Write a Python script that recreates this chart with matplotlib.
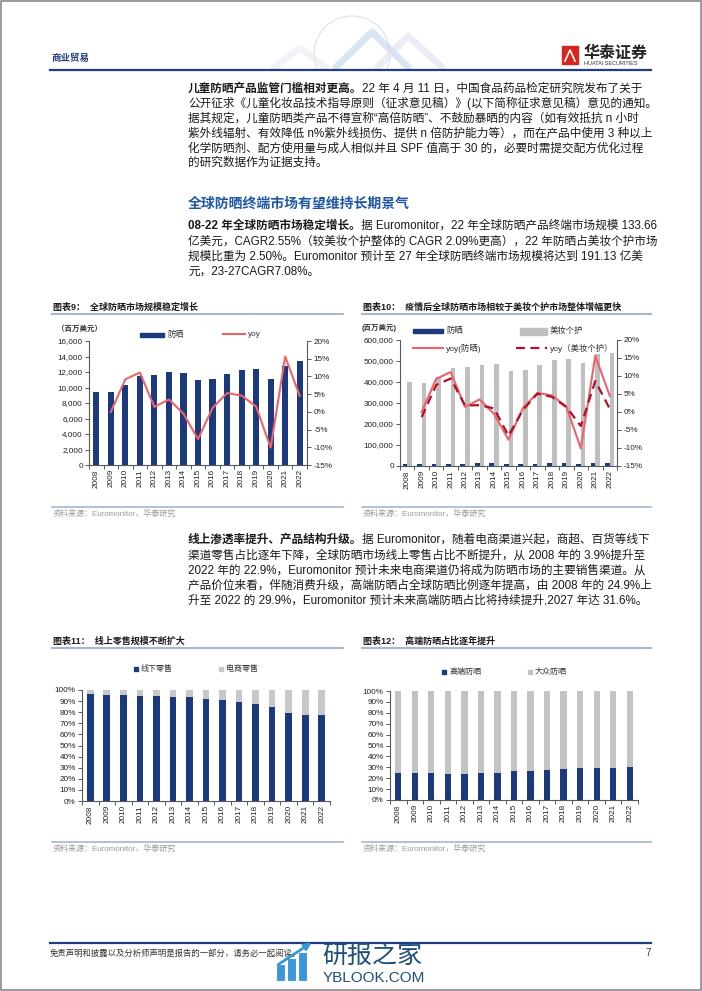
import numpy as np
import matplotlib
matplotlib.use('Agg')
import matplotlib.pyplot as plt
from matplotlib.patches import Rectangle, Circle
from matplotlib.ticker import FuncFormatter

plt.rcParams['font.family'] = ['Liberation Sans', 'Noto Sans CJK SC']
plt.rcParams['axes.unicode_minus'] = False

W, H = 702, 991

# ---- 数据 ----
years = [str(y) for y in range(2008, 2023)]
# 图表9/10: 全球防晒市场规模 (百万美元) 及同比
sunscreen = [9420, 9420, 10320, 11440, 11570, 11990, 11910, 11000, 11140,
             11700, 12200, 12390, 11080, 12790, 13366]
sunscreen_yoy = [0.0, 9.2, 11.1, 1.4, 3.5, -0.5, -7.7, 1.1, 5.3, 4.6, 1.5,
                 -10.1, 15.6, 4.5]
# 图表10: 美妆个护市场规模 (百万美元) 及同比
beauty = [401000, 396000, 426000, 466000, 473000, 482000, 488000, 452000,
          459000, 483000, 503000, 511000, 490000, 531000, 536000]
beauty_yoy = [-1.4, 7.5, 9.3, 1.8, 1.9, 1.0, -6.6, 0.6, 5.1, 4.2, 1.4, -3.9,
              8.6, 0.9]
# 图表11: 线下零售占比 (%)
offline_share = [96.1, 95.9, 95.3, 94.9, 94.6, 94.1, 93.4, 91.9, 90.7, 89.6,
                 87.1, 85.0, 79.0, 77.3, 77.1]
# 图表12: 高端防晒占比 (%)
premium_share = [24.9, 24.9, 24.4, 24.3, 24.3, 24.6, 25.2, 26.4, 26.9, 27.9,
                 28.5, 29.2, 29.3, 29.6, 29.9]

online_share = [100 - v for v in offline_share]
mass_share = [100 - v for v in premium_share]

# ---- 颜色 ----
NAVY = '#1B3A7E'
GRAY = '#BFBFBF'
RED = '#F0626A'
DRED = '#B0102A'
AXC = '#595959'
TXT = '#1a1a1a'
LINEC = '#A6B8CC'

fig = plt.figure(figsize=(W / 100, H / 100), dpi=100)
page = fig.add_axes([0, 0, 1, 1])
page.set_xlim(0, W)
page.set_ylim(H, 0)
page.axis('off')


def box(x0, y0, x1, y1):
    return [x0 / W, 1 - y1 / H, (x1 - x0) / W, (y1 - y0) / H]


# 页面边框
page.add_patch(Rectangle((0.8, 0.8), W - 1.6, H - 1.6, fill=False, ec='#8a8a8a', lw=1.2))

# ---- 页眉 ----
deco = Circle((352, 54), 38, fill=False, ec='#DCE2E8', lw=0.8)
page.add_patch(deco)
deco.set_clip_path(Rectangle((250, 0), 250, 69, transform=page.transData))
for pts, c in [([(334, 69), (372, 32), (410, 69)], '#C4D4EA'),
               ([(376, 69), (408, 36), (444, 69)], '#DCE3EE'),
               ([(272, 69), (300, 48), (328, 69)], '#E8ECF2')]:
    xs, ys = zip(*pts)
    page.plot(xs, ys, color=c, lw=5, alpha=0.6, solid_capstyle='butt')
page.text(52, 58, '商业贸易', fontsize=6.8, weight='bold', color='#1F3F7F', va='center')
page.add_patch(Rectangle((562, 46), 16, 18, color='#D7261E'))
page.plot([565, 570, 575], [61, 50, 61], color='white', lw=1.2)
page.text(584, 53, '华泰证券', fontsize=11.5, weight='bold', color='#222222', va='center')
page.text(584, 63.5, 'HUATAI SECURITIES', fontsize=4.0, color='#333333', va='center')
page.plot([50, 651], [70, 70], color='#1F3F7F', lw=1.6)

# ---- 正文 ----
BODY_FS = 8.4
TX = 188


def body_line(y, text, lead=None):
    if lead:
        t = page.text(TX, y, lead, fontsize=BODY_FS, weight='bold', color=TXT, va='center')
        page.annotate(text, xy=(1, 0.5), xycoords=t, va='center', ha='left',
                      fontsize=BODY_FS, color=TXT, weight='light')
    else:
        page.text(TX, y, text, fontsize=BODY_FS, color=TXT, va='center', weight='light')


p1 = ['22 年 4 月 11 日，中国食品药品检定研究院发布了关于',
      '公开征求《儿童化妆品技术指导原则（征求意见稿）》(以下简称征求意见稿）意见的通知。',
      '据其规定，儿童防晒类产品不得宣称“高倍防晒”、不鼓励暴晒的内容（如有效抵抗 n 小时',
      '紫外线辐射、有效降低 n%紫外线损伤、提供 n 倍防护能力等），而在产品中使用 3 种以上',
      '化学防晒剂、配方使用量与成人相似并且 SPF 值高于 30 的，必要时需提交配方优化过程',
      '的研究数据作为证据支持。']
for i, s in enumerate(p1):
    body_line(89 + i * 14.8, s, '儿童防晒产品监管门槛相对更高。' if i == 0 else None)

page.text(TX, 204, '全球防晒终端市场有望维持长期景气', fontsize=10, weight='bold',
          color='#1F57A5', va='center')

p2 = ['据 Euromonitor，22 年全球防晒产品终端市场规模 133.66',
      '亿美元，CAGR2.55%（较美妆个护整体的 CAGR 2.09%更高），22 年防晒占美妆个护市场',
      '规模比重为 2.50%。Euromonitor 预计至 27 年全球防晒终端市场规模将达到 191.13 亿美',
      '元，23-27CAGR7.08%。']
for i, s in enumerate(p2):
    body_line(226 + i * 15.2, s, '08-22 年全球防晒市场稳定增长。' if i == 0 else None)

p3 = ['据 Euromonitor，随着电商渠道兴起，商超、百货等线下',
      '渠道零售占比逐年下降，全球防晒市场线上零售占比不断提升，从 2008 年的 3.9%提升至',
      '2022 年的 22.9%，Euromonitor 预计未来电商渠道仍将成为防晒市场的主要销售渠道。从',
      '产品价位来看，伴随消费升级，高端防晒占全球防晒比例逐年提高，由 2008 年的 24.9%上',
      '升至 2022 的 29.9%，Euromonitor 预计未来高端防晒占比将持续提升,2027 年达 31.6%。']
for i, s in enumerate(p3):
    body_line(540 + i * 15.2, s, '线上渗透率提升、产品结构升级。' if i == 0 else None)


# ---- 图表标题与来源 ----
def chart_frame(x0, x1, ty, sy, title):
    page.text(x0 + 1, ty, title, fontsize=6.5, weight='bold', color=TXT, va='center')
    page.plot([x0, x1], [ty + 6.5, ty + 6.5], color=LINEC, lw=1.5)
    page.plot([x0, x1], [sy, sy], color=LINEC, lw=1.2)
    page.text(x0 + 1, sy + 7, '资料来源：Euromonitor，华泰研究', fontsize=5.8,
              color='#9a9a9a', va='center')


chart_frame(52, 343, 307, 507, '图表9：  全球防晒市场规模稳定增长')
chart_frame(362, 651, 307, 507, '图表10：  疫情后全球防晒市场相较于美妆个护市场整体增幅更快')
chart_frame(52, 343, 641, 842, '图表11：  线上零售规模不断扩大')
chart_frame(362, 651, 641, 842, '图表12：  高端防晒占比逐年提升')


def legend_patch(x, y, w, h, color, label, fs=5.9):
    page.add_patch(Rectangle((x, y - h / 2), w, h, color=color))
    page.text(x + w + 3, y, label, fontsize=fs, color='#333333', va='center')


def legend_line(x, y, w, color, label, fs=5.9, lw=1.5):
    page.plot([x, x + w], [y, y], color=color, lw=lw)
    page.text(x + w + 3, y, label, fontsize=fs, color='#333333', va='center')


x = np.arange(len(years))


def style_axes(ax):
    ax.patch.set_visible(False)
    for s in ['top', 'right']:
        ax.spines[s].set_visible(False)
    for s in ['left', 'bottom']:
        ax.spines[s].set_color(AXC)
        ax.spines[s].set_linewidth(0.8)
    ax.set_xlim(-0.5, len(years) - 0.5)
    ax.set_xticks(x)
    ax.set_xticklabels(years, rotation=90)
    ax.set_xticks(np.arange(-0.5, len(years)), minor=True)
    ax.tick_params(axis='x', which='major', length=0, pad=3, labelsize=5.9, labelcolor='#222222')
    ax.tick_params(axis='x', which='minor', length=3, width=0.7, color=AXC)
    ax.tick_params(axis='y', direction='out', length=3, width=0.7, color=AXC,
                   labelsize=5.9, pad=1.5, labelcolor='#222222')


def style_twin(ax2):
    for s in ['top', 'left', 'bottom']:
        ax2.spines[s].set_visible(False)
    ax2.spines['right'].set_color(AXC)
    ax2.spines['right'].set_linewidth(0.8)
    ax2.set_ylim(-15, 20)
    ax2.set_yticks(range(-15, 21, 5))
    ax2.yaxis.set_major_formatter(FuncFormatter(lambda v, p: f'{v:.0f}%'))
    ax2.tick_params(axis='y', direction='out', length=3, width=0.7, color=AXC,
                    labelsize=5.9, pad=1.5, labelcolor='#222222')


thousands = FuncFormatter(lambda v, p: f'{v:,.0f}')

# ---- 图表9 ----
ax9 = fig.add_axes(box(89, 341, 307, 465))
style_axes(ax9)
ax9.bar(x, sunscreen, width=0.42, color=NAVY)
ax9.set_ylim(0, 16000)
ax9.set_yticks(range(0, 16001, 2000))
ax9.yaxis.set_major_formatter(thousands)
ax9b = ax9.twinx()
style_twin(ax9b)
ax9b.plot(x[1:], sunscreen_yoy, color=RED, lw=1.5)
page.text(57, 329, '（百万美元）', fontsize=5.4, weight='bold', color='#333333', va='center')
legend_patch(140, 335, 24, 4.5, NAVY, '防晒')
legend_line(223, 334, 22, RED, 'yoy')

# ---- 图表10 ----
ax10 = fig.add_axes(box(400, 340, 617, 466))
style_axes(ax10)
ax10.bar(x - 0.16, sunscreen, width=0.32, color=NAVY)
ax10.bar(x + 0.16, beauty, width=0.32, color=GRAY)
ax10.set_ylim(0, 600000)
ax10.set_yticks(range(0, 600001, 100000))
ax10.yaxis.set_major_formatter(thousands)
ax10b = ax10.twinx()
style_twin(ax10b)
ax10b.plot(x[1:], sunscreen_yoy, color=RED, lw=1.5)
ax10b.plot(x[1:], beauty_yoy, color=DRED, lw=1.6, dashes=(4, 2.5))
page.text(362, 328, '(百万美元)', fontsize=5.4, weight='bold', color='#333333', va='center')
legend_patch(413, 331, 30, 3.5, NAVY, '防晒', fs=6)
legend_patch(520, 331, 27, 7, GRAY, '美妆个护', fs=6)
legend_line(413, 348, 30, RED, 'yoy(防晒)', fs=6)
page.plot([516, 547], [348, 348], color=DRED, lw=1.6, dashes=(4, 2.5))
page.text(550, 348, 'yoy（美妆个护）', fontsize=6, color='#333333', va='center')

# ---- 图表11 ----
pct = FuncFormatter(lambda v, p: f'{v:.0f}%')
ax11 = fig.add_axes(box(82, 690, 330, 801))
style_axes(ax11)
ax11.bar(x, offline_share, width=0.4, color=NAVY)
ax11.bar(x, online_share, bottom=offline_share, width=0.4, color='#C8C8C8')
ax11.set_ylim(0, 100)
ax11.set_yticks(range(0, 101, 10))
ax11.yaxis.set_major_formatter(pct)
legend_patch(134, 669, 4, 4, NAVY, '线下零售', fs=5.8)
legend_patch(219, 669, 4, 4, '#C8C8C8', '电商零售', fs=5.8)

# ---- 图表12 ----
ax12 = fig.add_axes(box(390, 691, 638, 800))
style_axes(ax12)
ax12.bar(x, premium_share, width=0.38, color=NAVY)
ax12.bar(x, mass_share, bottom=premium_share, width=0.38, color='#C3C3C3')
ax12.set_ylim(0, 100)
ax12.set_yticks(range(0, 101, 10))
ax12.yaxis.set_major_formatter(pct)
legend_patch(442, 672, 4, 4, NAVY, '高端防晒', fs=5.8)
legend_patch(528, 672, 4, 4, '#C3C3C3', '大众防晒', fs=5.8)

# ---- 页脚 ----
page.plot([50, 651], [943, 943], color='#1F3F7F', lw=1.6)
page.text(50, 953, '免责声明和披露以及分析师声明是报告的一部分，请务必一起阅读。',
          fontsize=6, color='#333333', va='center', style='italic')
page.text(651, 953, '7', fontsize=7, color='#333333', va='center', ha='right')
# 水印
for bx, top in [(276, 964), (287, 958), (298, 952)]:
    page.add_patch(Rectangle((bx, top), 9, 981 - top, color='#3A96DA', ec='white', lw=0.8))
page.annotate('', xy=(314, 941), xytext=(276, 966),
              arrowprops=dict(arrowstyle='-|>', color='#3A96DA', lw=2))
page.text(322, 956, '研报之家', fontsize=18, color='#1E4F7A', va='center')
page.text(323, 978, 'YBLOOK.COM', fontsize=11, color='#1E4F7A', va='center')

fig.savefig('out.png', dpi=100)
